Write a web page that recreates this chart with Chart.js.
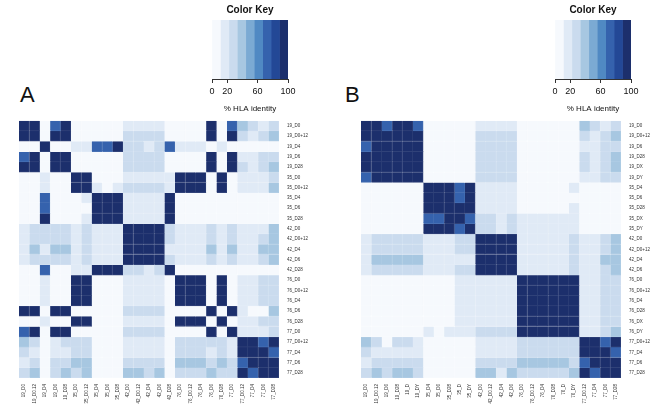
<!DOCTYPE html>
<html><head><meta charset="utf-8">
<script src="https://cdn.jsdelivr.net/npm/chart.js@4.4.1/dist/chart.umd.min.js"></script>
<style>
html,body{margin:0;padding:0;background:#fff;}
body{width:666px;height:412px;position:relative;overflow:hidden;font-family:"Liberation Sans",Arial,sans-serif;}
canvas{position:absolute;}
.panel{position:absolute;font-size:22px;color:#111;line-height:1;font-family:"Liberation Sans",Arial,sans-serif;}
</style></head><body>
<div class="panel" style="left:20px;top:84px">A</div>
<div class="panel" style="left:345px;top:84px">B</div>
<canvas id="keyA" width="160" height="116" style="left:170px;top:0"></canvas>
<canvas id="keyB" width="160" height="116" style="left:513px;top:0"></canvas>
<canvas id="heatA" width="340" height="302" style="left:0;top:110px"></canvas>
<canvas id="heatB" width="324" height="302" style="left:342px;top:110px"></canvas>
<script>
// ---- colour key ----
const keyColors = ['#F6F9FD','#E0EAF6','#CADBEE','#A7C7E1','#7BAAD3','#5089C3','#3562AD','#234896','#1C2F6C'];
const keyBreaks = [0, 11.1, 22.2, 33.3, 44.4, 55.6, 66.7, 77.8, 88.9, 100];
const keyTicks = [0, 20, 60, 100];

// ---- panel A ----
const rowsA = ["19_D0","19_D0+12","19_D4","19_D6","19_D28","35_D0","35_D0+12","35_D4","35_D6","35_D28","42_D0","42_D0+12","42_D4","42_D6","42_D28","76_D0","76_D0+12","76_D4","76_D6","76_D28","77_D0","77_D0+12","77_D4","77_D6","77_D28"];
const colsA = ["19_D0","19_D0.12","19_D4","19_D6","19_D28","35_D0","35_D0.12","35_D4","35_D6","35_D28","42_D0","42_D0.12","42_D4","42_D6","42_D28","76_D0","76_D0.12","76_D4","76_D6","76_D28","77_D0","77_D0.12","77_D4","77_D6","77_D28"];
const identityA = [
[95,95,5,72,95, 5,5,5,5,5, 16,16,16,16,5, 5,5,5,95,5, 72,39,28,16,28],
[95,95,5,95,95, 5,5,5,5,5, 28,28,28,28,5, 5,5,5,95,5, 95,28,16,28,39],
[5,5,95,5,5, 16,16,72,72,95, 28,28,16,28,72, 16,16,16,5,16, 5,5,5,5,5],
[72,95,5,95,95, 5,5,5,5,5, 28,28,28,28,5, 5,5,5,95,5, 95,16,16,28,28],
[95,95,5,95,95, 5,5,5,5,5, 28,28,28,28,5, 5,5,5,95,5, 95,28,16,28,39],
[5,5,16,5,5, 95,95,5,5,5, 16,16,16,16,16, 95,95,95,5,95, 5,16,16,16,28],
[5,5,16,5,5, 95,95,16,5,16, 28,28,28,28,16, 95,95,95,5,95, 5,16,16,16,39],
[5,5,72,5,5, 5,16,95,95,95, 16,16,16,16,95, 5,5,5,5,5, 5,5,5,5,5],
[5,5,72,5,5, 5,5,95,95,95, 16,16,16,16,95, 5,5,5,5,5, 5,5,5,5,5],
[5,5,95,5,5, 5,16,95,95,95, 16,16,16,16,95, 5,5,5,5,5, 5,5,5,5,5],
[16,28,28,28,28, 16,28,16,16,16, 95,95,95,95,28, 16,16,16,28,16, 28,16,16,16,39],
[16,28,28,28,28, 16,28,16,16,16, 95,95,95,95,28, 16,16,16,28,16, 28,16,16,28,39],
[16,39,16,39,39, 16,28,16,16,16, 95,95,95,95,16, 16,16,16,39,16, 39,16,16,39,39],
[16,28,28,28,28, 16,28,16,16,16, 95,95,95,95,28, 16,16,16,28,16, 28,16,16,28,39],
[5,5,72,5,5, 16,16,95,95,95, 28,28,16,28,95, 5,5,5,5,5, 5,5,5,5,5],
[5,5,16,5,5, 95,95,5,5,5, 16,16,16,16,5, 95,95,95,5,95, 5,16,16,28,28],
[5,5,16,5,5, 95,95,5,5,5, 16,16,16,16,5, 95,95,95,5,95, 5,16,16,28,28],
[5,5,16,5,5, 95,95,5,5,5, 16,16,16,16,5, 95,95,95,5,95, 5,16,16,28,28],
[95,95,5,95,95, 5,5,5,5,5, 28,28,28,28,5, 5,5,5,95,5, 95,16,5,5,39],
[5,5,16,5,5, 95,95,5,5,5, 16,16,16,16,5, 95,95,95,5,95, 5,16,16,28,28],
[72,95,5,95,95, 5,5,5,5,5, 28,28,28,28,5, 5,5,5,95,5, 95,16,16,16,28],
[39,28,5,16,28, 28,28,5,5,5, 16,16,16,16,5, 28,28,28,28,28, 16,95,95,72,95],
[28,16,5,16,16, 28,28,5,5,5, 16,16,16,16,5, 28,28,28,16,28, 16,95,95,95,72],
[16,28,5,28,28, 39,39,5,5,5, 28,28,28,28,5, 39,39,39,28,39, 28,72,95,95,95],
[28,39,5,28,39, 28,39,5,5,5, 39,39,28,39,5, 28,28,28,39,28, 28,95,72,95,95]
];

// ---- panel B ----
const rowsB = ["19_D0","19_D0+12","19_D6","19_D28","19_DX","19_DY","35_D4","35_D6","35_D28","35_DX","35_DY","42_D0","42_D0+12","42_D4","42_D6","76_D0","76_D0+12","76_D4","76_D28","76_DX","76_DY","77_D0+12","77_D4","77_D6","77_D28"];
const colsB = ["19_D0","19_D0.12","19_D6","19_D28","19_D","19_DY","35_D4","35_D6","35_D28","35_D","35_DY","42_D0","42_D0.12","42_D4","42_D6","76_D0","76_D0.12","76_D4","76_D28","76_D","76_DY","77_D0.12","77_D4","77_D6","77_D28"];
const identityB = [
[95,95,72,95,95,72, 5,5,5,5,5, 16,16,16,16, 5,5,5,5,5,5, 39,28,16,28],
[95,95,95,95,95,95, 5,5,5,5,5, 28,28,28,28, 5,5,5,5,5,5, 28,16,28,39],
[72,95,95,95,95,95, 5,5,5,5,5, 28,28,28,28, 5,5,5,5,5,5, 16,16,28,28],
[95,95,95,95,95,95, 5,5,5,5,5, 28,28,28,28, 5,5,5,5,5,5, 28,16,28,39],
[95,95,95,95,95,95, 5,5,5,5,5, 28,28,28,28, 5,5,5,5,5,5, 28,16,28,39],
[72,95,95,95,95,95, 5,5,5,5,5, 28,28,28,28, 5,5,5,5,5,5, 16,16,28,28],
[5,5,5,5,5,5, 95,95,95,72,95, 16,16,16,16, 5,5,5,5,5,16, 5,5,5,5],
[5,5,5,5,5,5, 95,95,95,72,95, 16,16,16,16, 5,5,5,5,5,5, 5,5,5,5],
[5,5,5,5,5,5, 95,95,95,95,95, 16,16,16,16, 5,5,5,5,5,16, 5,5,5,5],
[5,5,5,5,5,5, 72,72,95,95,72, 28,28,16,28, 16,16,16,16,16,16, 5,5,5,5],
[5,5,5,5,5,5, 95,95,95,72,95, 28,28,16,28, 16,16,16,16,16,16, 5,5,5,5],
[16,28,28,28,28,28, 16,16,16,28,28, 95,95,95,95, 16,16,16,16,16,28, 16,16,28,39],
[16,28,28,28,28,28, 16,16,16,28,28, 95,95,95,95, 16,16,16,16,16,28, 16,16,28,39],
[16,39,39,39,39,39, 16,16,16,16,16, 95,95,95,95, 16,16,16,16,16,28, 16,16,39,39],
[16,28,28,28,28,28, 16,16,16,28,28, 95,95,95,95, 16,16,16,16,16,28, 16,16,28,39],
[5,5,5,5,5,5, 5,5,5,16,16, 16,16,16,16, 95,95,95,95,95,95, 16,16,28,28],
[5,5,5,5,5,5, 5,5,5,16,16, 16,16,16,16, 95,95,95,95,95,95, 16,16,28,28],
[5,5,5,5,5,5, 5,5,5,16,16, 16,16,16,16, 95,95,95,95,95,95, 16,16,28,28],
[5,5,5,5,5,5, 5,5,5,16,16, 16,16,16,16, 95,95,95,95,95,95, 16,16,28,28],
[5,5,5,5,5,5, 5,5,5,16,16, 16,16,16,16, 95,95,95,95,95,95, 16,16,28,28],
[5,5,5,5,5,5, 16,5,16,16,16, 28,28,28,28, 95,95,95,95,95,95, 16,16,28,39],
[39,28,5,28,28,16, 5,5,5,5,5, 16,16,16,16, 28,28,28,28,28,28, 95,95,72,95],
[28,16,16,16,16,16, 5,5,5,5,5, 16,16,16,16, 28,28,28,28,28,28, 95,95,95,72],
[16,28,28,28,28,28, 5,5,5,5,5, 28,28,28,28, 39,39,39,39,39,28, 72,95,95,95],
[28,39,28,39,39,28, 5,5,5,5,5, 39,39,16,39, 28,28,28,28,28,39, 95,72,95,95]
];

Chart.defaults.font.family = '"Liberation Sans", Arial, sans-serif';
Chart.defaults.color = '#222';

function colorFor(v) {
  let k = 0;
  while (k < keyColors.length - 1 && v >= keyBreaks[k + 1]) k++;
  return keyColors[k];
}
// slightly lighter version of a cell colour, used for the faint cell separators
function lighter(hex) {
  const n = parseInt(hex.slice(1), 16);
  const mix = c => Math.round(c + (255 - c) * 0.09);
  return 'rgb(' + mix(n >> 16) + ',' + mix((n >> 8) & 255) + ',' + mix(n & 255) + ')';
}

function keyChart(id) {
  new Chart(document.getElementById(id), {
    type: 'bar',
    data: {
      labels: ['key'],
      datasets: keyColors.map((c, k) => ({
        data: [[keyBreaks[k], keyBreaks[k + 1]]],
        backgroundColor: c, borderWidth: 0,
        barPercentage: 1, categoryPercentage: 1, grouped: false
      }))
    },
    options: {
      indexAxis: 'y', responsive: false, animation: false, devicePixelRatio: 1,
      layout: { padding: { left: 42, right: 42, top: 0, bottom: 0 } },
      plugins: {
        legend: { display: false }, tooltip: { enabled: false },
        title: { display: true, text: 'Color Key', color: '#111',
                 font: { size: 10, weight: 'bold' }, padding: { top: 4, bottom: 4 } }
      },
      scales: {
        y: { display: false },
        x: {
          type: 'linear', min: 0, max: 100,
          afterBuildTicks: s => { s.ticks = keyTicks.map(v => ({ value: v })); },
          grid: { display: true, drawOnChartArea: false, drawTicks: true, tickLength: 4, color: '#333' },
          border: { display: true, color: '#333' },
          ticks: { font: { size: 9 }, color: '#111', padding: 3, autoSkip: false, maxRotation: 0 },
          title: { display: true, text: '% HLA identity', color: '#111', font: { size: 8 }, padding: { top: 2, bottom: 2 } },
          afterFit: s => { s.height = 37; }
        }
      }
    }
  });
}

function heatChart(id, rows, cols, matrix, yWidth) {
  const n = rows.length;
  new Chart(document.getElementById(id), {
    type: 'bar',
    data: {
      labels: cols,
      datasets: matrix.map((row, i) => ({
        label: rows[i],
        data: row.map(() => [n - 1 - i, n - i]),
        backgroundColor: row.map(colorFor),
        borderColor: row.map(v => lighter(colorFor(v))),
        borderWidth: { left: 0, top: 0, right: 1, bottom: 1 },
        borderSkipped: false,
        barPercentage: 1, categoryPercentage: 1, grouped: false
      }))
    },
    options: {
      responsive: false, animation: false, devicePixelRatio: 1,
      layout: { padding: { left: 19, top: 9, right: 0, bottom: 0 } },
      plugins: { legend: { display: false }, tooltip: { enabled: false } },
      scales: {
        x: {
          grid: { display: false, drawTicks: false }, border: { display: false },
          ticks: { autoSkip: false, minRotation: 90, maxRotation: 90, font: { size: 4.5 }, color: '#333', padding: 6 },
          afterFit: s => { s.height = 34; }
        },
        y: {
          type: 'linear', position: 'right', min: 0, max: n,
          grid: { display: false, drawTicks: false }, border: { display: false },
          afterBuildTicks: s => { s.ticks = rows.map((_, i) => ({ value: n - 0.5 - i })); },
          ticks: { autoSkip: false, font: { size: 4.5 }, color: '#333', padding: 8,
                   callback: (v, idx) => rows[idx] },
          afterFit: s => { s.width = yWidth; }
        }
      }
    }
  });
}

keyChart('keyA');
keyChart('keyB');
heatChart('heatA', rowsA, colsA, identityA, 61);
heatChart('heatB', rowsB, colsB, identityB, 45);
</script>
</body></html>
